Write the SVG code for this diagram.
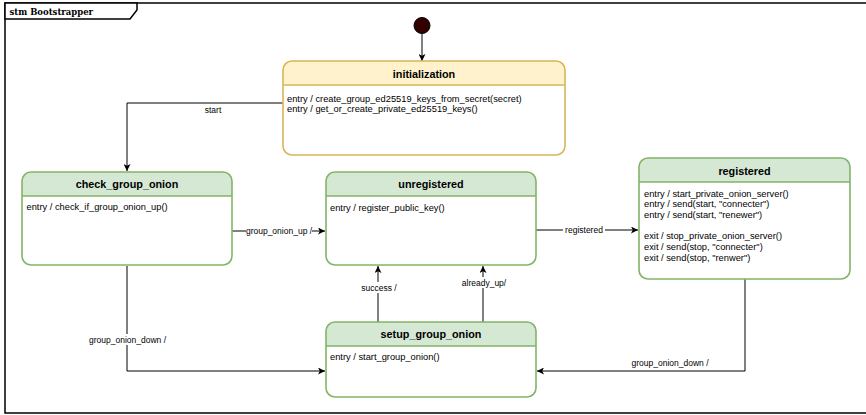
<svg xmlns="http://www.w3.org/2000/svg" width="866" height="415" viewBox="0 0 866 415">
  <defs>
    <marker id="arrow" viewBox="0 0 10 10" refX="10" refY="5" markerWidth="7" markerHeight="7" markerUnits="userSpaceOnUse" orient="auto">
      <path d="M0,0 L10,5 L0,10 L2.5,5 Z" fill="#000"/>
    </marker>
    <style>
      .frame { fill: none; stroke: #000; stroke-width: 1.5; }
      .frame-tab { fill: #fff; stroke: #000; stroke-width: 1.5; }
      .frame-title { font-family: "DejaVu Serif", serif; font-weight: bold; font-size: 8.5px; fill: #000; }
      .state-outline { fill: none; stroke-width: 1.6; }
      .state-body { fill: #fff; }
      .green .state-head { fill: #d5e8d4; }
      .green .state-outline, .green .divider { stroke: #82b366; }
      .yellow .state-head { fill: #fff2cc; }
      .yellow .state-outline, .yellow .divider { stroke: #d6b656; }
      .divider { stroke-width: 1.6; }
      .title { font-family: "Liberation Sans", Arial, sans-serif; font-weight: bold; font-size: 10.8px; fill: #000; text-anchor: middle; }
      .body { font-family: "Liberation Sans", Arial, sans-serif; font-size: 9.3px; fill: #000; }
      .edge { fill: none; stroke: #000; stroke-width: 1; marker-end: url(#arrow); }
      .label { font-family: "Liberation Sans", Arial, sans-serif; font-size: 8.5px; fill: #000; text-anchor: middle; }
      .label-bg { fill: #fff; }
    </style>
  </defs>

  <rect width="866" height="415" fill="#fff"/>

  <!-- state machine frame (right side runs past the canvas edge) -->
  <g id="frame">
    <rect class="frame" x="5" y="3" width="870" height="410"/>
    <path class="frame-tab" d="M5,3 H137 V10 L130,19 H5 Z"/>
    <text class="frame-title" x="9.5" y="14.5">stm Bootstrapper</text>
  </g>

  <!-- connectors -->
  <g id="connectors">
    <path class="edge" d="M422,33.5 V61"/>
    <path class="edge" d="M283,103 H127 V171"/>
    <path class="edge" d="M232,231 H325"/>
    <path class="edge" d="M536,230 H638"/>
    <path class="edge" d="M127,266 V371 H325"/>
    <path class="edge" d="M378,322 V266"/>
    <path class="edge" d="M483,322 V266"/>
    <path class="edge" d="M745,279 V371 H537"/>

    <text class="label" x="213" y="113">start</text>
    <rect class="label-bg" x="246" y="225" width="66" height="11"/>
    <text class="label" x="279" y="233.5">group_onion_up /</text>
    <rect class="label-bg" x="563" y="225" width="42" height="11"/>
    <text class="label" x="584" y="233">registered</text>
    <rect class="label-bg" x="88" y="334" width="79" height="11"/>
    <text class="label" x="127.5" y="343">group_onion_down /</text>
    <rect class="label-bg" x="360" y="282" width="38" height="11"/>
    <text class="label" x="379" y="290.5">success /</text>
    <rect class="label-bg" x="462" y="277" width="44" height="11"/>
    <text class="label" x="484" y="285.5">already_up/</text>
    <text class="label" x="670" y="366">group_onion_down /</text>
  </g>

  <!-- initial pseudostate -->
  <g id="initial">
    <circle cx="422" cy="25.5" r="8" fill="#330000" stroke="#000" stroke-width="1"/>
  </g>

  <g id="initialization" class="yellow">
    <path class="state-head" d="M283,85 V70 A9,9 0 0 1 292,61 H556 A9,9 0 0 1 565,70 V85 Z"/>
    <path class="state-body" d="M283,85 H565 V146 A9,9 0 0 1 556,155 H292 A9,9 0 0 1 283,146 Z"/>
    <line class="divider" x1="283" y1="85" x2="565" y2="85"/>
    <rect class="state-outline" x="283" y="61" width="282" height="94" rx="9"/>
    <text class="title" x="424" y="77.5">initialization</text>
    <text class="body" x="287" y="101.5">entry / create_group_ed25519_keys_from_secret(secret)</text>
    <text class="body" x="287" y="112">entry / get_or_create_private_ed25519_keys()</text>
  </g>

  <g id="check_group_onion" class="green">
    <path class="state-head" d="M22,196 V181 A9,9 0 0 1 31,172 H223 A9,9 0 0 1 232,181 V196 Z"/>
    <path class="state-body" d="M22,196 H232 V256 A9,9 0 0 1 223,265 H31 A9,9 0 0 1 22,256 Z"/>
    <line class="divider" x1="22" y1="196" x2="232" y2="196"/>
    <rect class="state-outline" x="22" y="172" width="210" height="93" rx="9"/>
    <text class="title" x="127" y="188">check_group_onion</text>
    <text class="body" x="26.5" y="210">entry / check_if_group_onion_up()</text>
  </g>

  <g id="unregistered" class="green">
    <path class="state-head" d="M326,196 V181 A9,9 0 0 1 335,172 H527 A9,9 0 0 1 536,181 V196 Z"/>
    <path class="state-body" d="M326,196 H536 V256 A9,9 0 0 1 527,265 H335 A9,9 0 0 1 326,256 Z"/>
    <line class="divider" x1="326" y1="196" x2="536" y2="196"/>
    <rect class="state-outline" x="326" y="172" width="210" height="93" rx="9"/>
    <text class="title" x="431" y="188">unregistered</text>
    <text class="body" x="330" y="210.5">entry / register_public_key()</text>
  </g>

  <g id="registered" class="green">
    <path class="state-head" d="M639,182 V167 A9,9 0 0 1 648,158 H841 A9,9 0 0 1 850,167 V182 Z"/>
    <path class="state-body" d="M639,182 H850 V270 A9,9 0 0 1 841,279 H648 A9,9 0 0 1 639,270 Z"/>
    <line class="divider" x1="639" y1="182" x2="850" y2="182"/>
    <rect class="state-outline" x="639" y="158" width="211" height="121" rx="9"/>
    <text class="title" x="744.5" y="175">registered</text>
    <text class="body" x="644" y="196.5">entry / start_private_onion_server()</text>
    <text class="body" x="644" y="207.2">entry / send(start, "connecter")</text>
    <text class="body" x="644" y="217.8">entry / send(start, "renewer")</text>
    <text class="body" x="644" y="239.2">exit / stop_private_onion_server()</text>
    <text class="body" x="644" y="249.8">exit / send(stop, "connecter")</text>
    <text class="body" x="644" y="260.5">exit / send(stop, "renwer")</text>
  </g>

  <g id="setup_group_onion" class="green">
    <path class="state-head" d="M326,346 V331 A9,9 0 0 1 335,322 H527 A9,9 0 0 1 536,331 V346 Z"/>
    <path class="state-body" d="M326,346 H536 V388 A9,9 0 0 1 527,397 H335 A9,9 0 0 1 326,388 Z"/>
    <line class="divider" x1="326" y1="346" x2="536" y2="346"/>
    <rect class="state-outline" x="326" y="322" width="210" height="75" rx="9"/>
    <text class="title" x="431" y="338">setup_group_onion</text>
    <text class="body" x="330" y="360">entry / start_group_onion()</text>
  </g>
</svg>
